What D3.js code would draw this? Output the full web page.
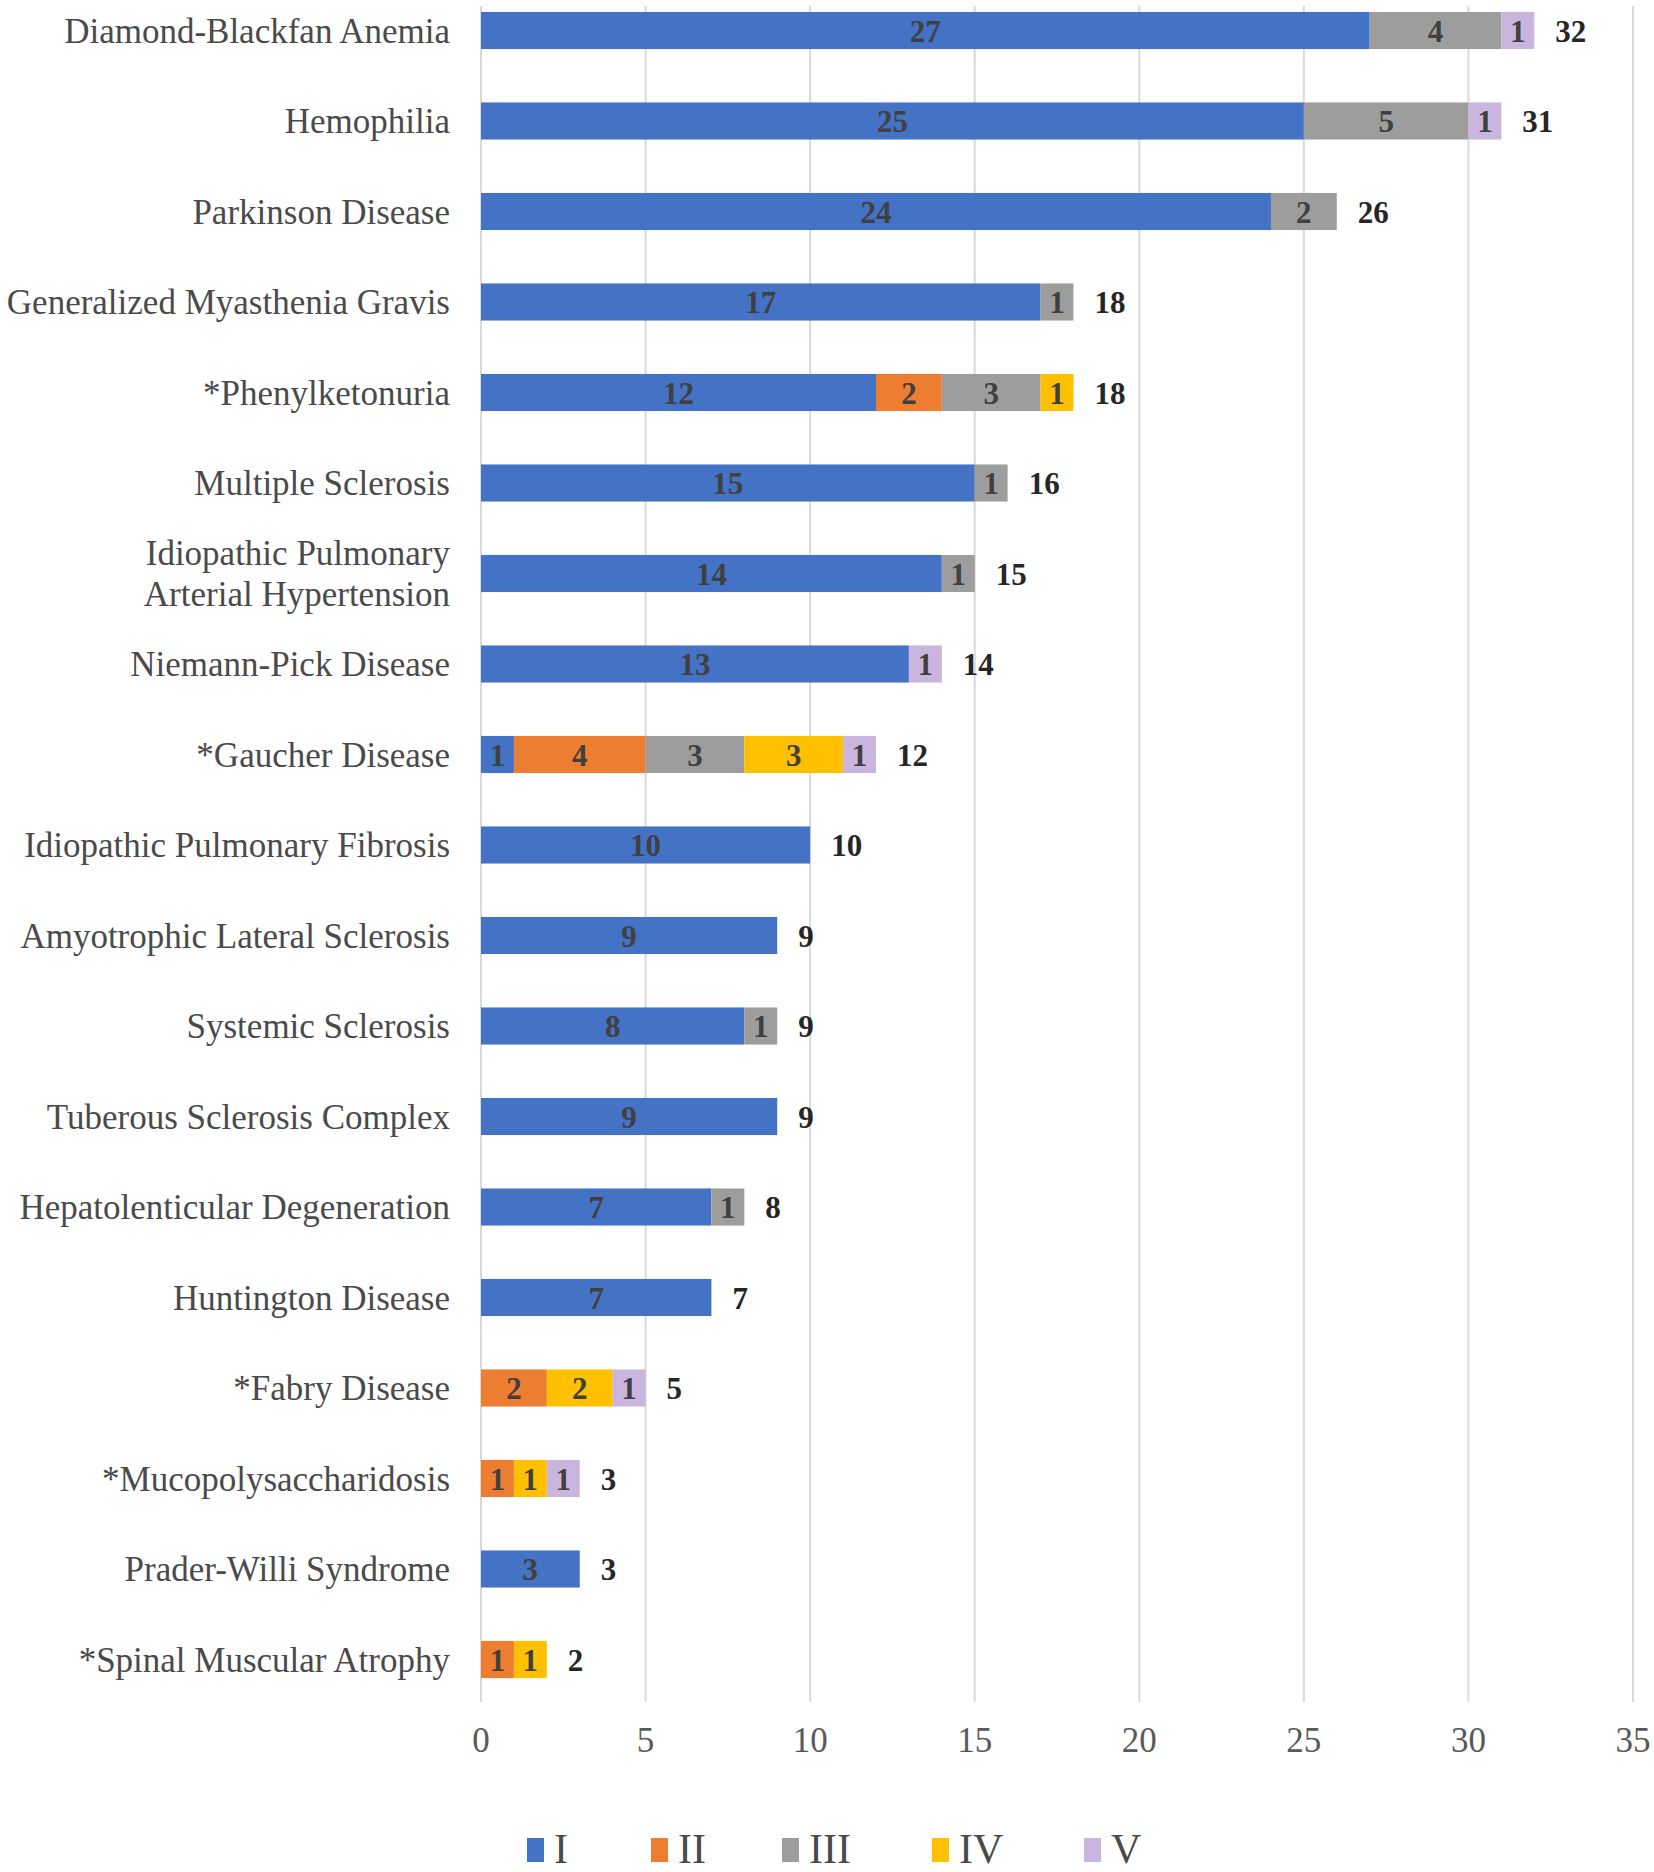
<!DOCTYPE html>
<html><head><meta charset="utf-8">
<script src="https://cdn.jsdelivr.net/npm/d3@7"></script>
<style>html,body{margin:0;padding:0;background:#fff;}</style>
</head><body>
<svg id="chart" width="1654" height="1872"></svg>
<script>
const categories = [
  "Diamond-Blackfan Anemia","Hemophilia","Parkinson Disease","Generalized Myasthenia Gravis",
  "*Phenylketonuria","Multiple Sclerosis","Idiopathic Pulmonary|Arterial Hypertension",
  "Niemann-Pick Disease","*Gaucher Disease","Idiopathic Pulmonary Fibrosis",
  "Amyotrophic Lateral Sclerosis","Systemic Sclerosis","Tuberous Sclerosis Complex",
  "Hepatolenticular Degeneration","Huntington Disease","*Fabry Disease",
  "*Mucopolysaccharidosis","Prader-Willi Syndrome","*Spinal Muscular Atrophy"
];
const seriesNames = ["I","II","III","IV","V"];
const phaseI   = [27,25,24,17,12,15,14,13,1,10,9,8,9,7,7,0,0,3,0];
const phaseII  = [0,0,0,0,2,0,0,0,4,0,0,0,0,0,0,2,1,0,1];
const phaseIII = [4,5,2,1,3,1,1,0,3,0,0,1,0,1,0,0,0,0,0];
const phaseIV  = [0,0,0,0,1,0,0,0,3,0,0,0,0,0,0,2,1,0,1];
const phaseV   = [1,1,0,0,0,0,0,1,1,0,0,0,0,0,0,1,1,0,0];
const xTicks = [0,5,10,15,20,25,30,35];
const colors = ["#4472C4","#ED7D31","#9D9D9D","#FFC000","#C9B5DE"];

const rows = categories.map((c,i)=>({cat:c, I:phaseI[i], II:phaseII[i], III:phaseIII[i], IV:phaseIV[i], V:phaseV[i]}));
rows.forEach(r=> r.total = seriesNames.reduce((s,k)=>s+r[k],0));

const svg = d3.select("#chart");
const x = d3.scaleLinear().domain([0,35]).range([481,1633]);
const y = d3.scaleBand().domain(categories).range([-14.75,1704.75]).paddingInner(0.59).paddingOuter(0.295);
const color = d3.scaleOrdinal().domain(seriesNames).range(colors);
const font = "'Liberation Serif','Times New Roman',serif";

// gridlines
svg.append("g").selectAll("line").data(xTicks).join("line")
  .attr("x1",d=>x(d)).attr("x2",d=>x(d)).attr("y1",6).attr("y2",1702)
  .attr("stroke","#D9D9D9").attr("stroke-width",2);

// tick labels
svg.append("g").selectAll("text").data(xTicks).join("text")
  .attr("x",d=>x(d)).attr("y",1752)
  .attr("text-anchor","middle").attr("font-family",font).attr("font-size",35)
  .attr("fill","#595959").text(d=>d);

// stacked bars
const stack = d3.stack().keys(seriesNames)(rows);
const layers = svg.append("g").selectAll("g").data(stack).join("g").attr("fill",d=>color(d.key));
layers.selectAll("rect").data(d=>d.filter(s=>s[1]-s[0]>0)).join("rect")
  .attr("x",d=>x(d[0])).attr("width",d=>x(d[1])-x(d[0]))
  .attr("y",d=>y(d.data.cat)).attr("height",y.bandwidth());

// segment labels
layers.selectAll("text").data(d=>d.filter(s=>s[1]-s[0]>0)).join("text")
  .attr("x",d=>(x(d[0])+x(d[1]))/2).attr("y",d=>y(d.data.cat)+y.bandwidth()/2+11)
  .attr("text-anchor","middle").attr("font-family",font).attr("font-size",31).attr("font-weight","bold")
  .attr("fill","#404040").text(d=>d[1]-d[0]);

// totals
svg.append("g").selectAll("text").data(rows).join("text")
  .attr("x",d=>x(d.total)+21).attr("y",d=>y(d.cat)+y.bandwidth()/2+11)
  .attr("font-family",font).attr("font-size",31).attr("font-weight","bold")
  .attr("fill","#262626").text(d=>d.total);

// category labels
const cl = svg.append("g").selectAll("text").data(rows).join("text")
  .attr("transform",d=>`translate(450,${y(d.cat)+y.bandwidth()/2+12})`)
  .attr("text-anchor","end").attr("font-family",font).attr("font-size",35)
  .attr("fill","#4a4a4a");
cl.each(function(d){
  const parts = d.cat.split("|");
  const t = d3.select(this);
  if(parts.length===1){ t.text(parts[0]); }
  else {
    parts.forEach((p,i)=>t.append("tspan").attr("x",0).attr("y",(i-(parts.length-1)/2)*41).text(p));
  }
});

// legend
const legX = [527,651,782,932,1084];
const lg = svg.append("g").selectAll("g").data(seriesNames).join("g")
  .attr("transform",(d,i)=>`translate(${legX[i]},1838)`);
lg.append("rect").attr("x",0).attr("y",0).attr("width",17).attr("height",24).attr("fill",d=>color(d));
lg.append("text").attr("x",27).attr("y",25).attr("font-family",font)
  .attr("font-size",42).attr("fill","#4a4a4a").text(d=>d);
</script>
</body></html>
